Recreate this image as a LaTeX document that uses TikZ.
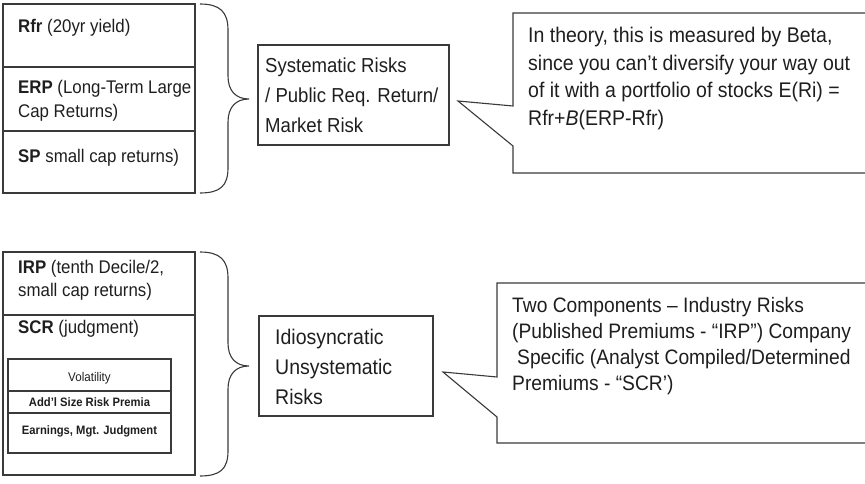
\documentclass[tikz,border=0pt]{standalone}
\usepackage{fontspec}
\setmainfont[FakeStretch=0.92]{Liberation Sans}
\definecolor{ln}{HTML}{3A3A3A}
\definecolor{tx}{HTML}{1E1E1E}
\tikzset{
  cell/.style={draw=ln, line width=1.1pt, anchor=north west, inner sep=0pt, outer sep=0pt},
  bigtxt/.style={anchor=base west, inner sep=0pt, text=tx, font=\fontsize{21.2}{25}\selectfont},
  midtxt/.style={anchor=base west, inner sep=0pt, text=tx, font=\fontsize{20.2}{24}\selectfont},
  boxtxt/.style={anchor=base west, inner sep=0pt, text=tx, font=\fontsize{18.3}{22}\selectfont},
  smalltxt/.style={anchor=base, inner sep=0pt, text=tx, font=\fontsize{12.6}{15}\selectfont},
  tinybold/.style={anchor=base, inner sep=0pt, text=tx, font=\fontsize{12.2}{14}\selectfont\bfseries},
  bracestyle/.style={draw=ln, line width=1.1pt},
  callout/.style={draw=ln, line width=1.1pt, line join=miter}
}
\begin{document}
\begin{tikzpicture}[x=1pt, y=-1pt]
\useasboundingbox (0,0) rectangle (865,484);
\clip (0,0) rectangle (865,484);
% ---------- top group ----------
\node[cell, minimum width=192pt, minimum height=63pt] (rfrcell) at (3,4) {};
\node[cell, minimum width=192pt, minimum height=64pt] (erpcell) at (3,67) {};
\node[cell, minimum width=192pt, minimum height=62pt] (spcell) at (3,131) {};
\node[boxtxt] (rfr) at (18,33) {\textbf{Rfr} (20yr yield)};
\node[boxtxt] (erpa) at (18,94) {\textbf{ERP} (Long-Term Large};
\node[boxtxt] (erpb) at (18,118) {Cap Returns)};
\node[boxtxt] (sp) at (18,163) {\textbf{SP} small cap returns)};
\draw[bracestyle] (200,4) .. controls (220,4) and (228,12) .. (228,30) -- (228,76)
  .. controls (228,91) and (236,99) .. (249,99)
  .. controls (236,99) and (228,107) .. (228,122) -- (228,168)
  .. controls (228,186) and (220,193) .. (200,193);
\node[cell, minimum width=191pt, minimum height=100pt] (sysbox) at (258,45) {};
\node[midtxt] (sysa) at (265,73) {Systematic Risks};
\node[midtxt] (sysb) at (265,103) {/ Public Req. Return/};
\node[midtxt] (sysc) at (265,133) {Market Risk};
\coordinate (tipa) at (458,101);
\draw[callout] (513,106) -- (513,13) -- (880,13) -- (880,173) -- (513,173) -- (513,146) -- (tipa) -- cycle;
\node[bigtxt] (ca) at (528,43) {In theory, this is measured by Beta,};
\node[bigtxt] (cb) at (528,70.5) {since you can’t diversify your way out};
\node[bigtxt] (cc) at (528,98) {of it with a portfolio of stocks E(Ri) =};
\node[bigtxt] (cd) at (528,125.5) {Rfr+\textit{B}(ERP-Rfr)};
% ---------- bottom group ----------
\node[cell, minimum width=192pt, minimum height=63pt] (irpcell) at (3,252) {};
\node[cell, minimum width=192pt, minimum height=160pt] (scrcell) at (3,315) {};
\node[boxtxt] (irpa) at (18,273) {\textbf{IRP} (tenth Decile/2,};
\node[boxtxt] (irpb) at (18,296) {small cap returns)};
\node[boxtxt] (scr) at (18,333) {\textbf{SCR} (judgment)};
\node[cell, minimum width=163pt, minimum height=32pt] (volcell) at (8,359) {};
\node[cell, minimum width=163pt, minimum height=22pt] (addcell) at (8,391) {};
\node[cell, minimum width=163pt, minimum height=40pt] (earncell) at (8,413) {};
\node[smalltxt] (vol) at (89.5,381) {Volatility};
\node[tinybold] (add) at (89.5,406.5) {Add’l Size Risk Premia};
\node[tinybold] (earn) at (89.5,434.5) {Earnings, Mgt. Judgment};
\draw[bracestyle] (200,252) .. controls (220,252) and (228,260) .. (228,278) -- (228,343)
  .. controls (228,358) and (236,366) .. (249,366)
  .. controls (236,366) and (228,374) .. (228,389) -- (228,451)
  .. controls (228,469) and (220,476) .. (200,476);
\node[cell, minimum width=174pt, minimum height=100pt] (idbox) at (259,316) {};
\node[bigtxt] (ida) at (275,344) {Idiosyncratic};
\node[bigtxt] (idb) at (275,374) {Unsystematic};
\node[bigtxt] (idc) at (275,404) {Risks};
\coordinate (tipb) at (443,372);
\draw[callout] (497,377) -- (497,283) -- (880,283) -- (880,443) -- (497,443) -- (497,417) -- (tipb) -- cycle;
\node[bigtxt, font=\fontsize{20.9}{25}\selectfont] (da) at (512,312) {Two Components – Industry Risks};
\node[bigtxt, font=\fontsize{20.9}{25}\selectfont] (db) at (512,338) {(Published Premiums - “IRP”) Company};
\node[bigtxt, font=\fontsize{20.9}{25}\selectfont] (dc) at (517,364) {Specific (Analyst Compiled/Determined};
\node[bigtxt, font=\fontsize{20.9}{25}\selectfont] (dd) at (512,390) {Premiums - “SCR’)};
\end{tikzpicture}
\end{document}
